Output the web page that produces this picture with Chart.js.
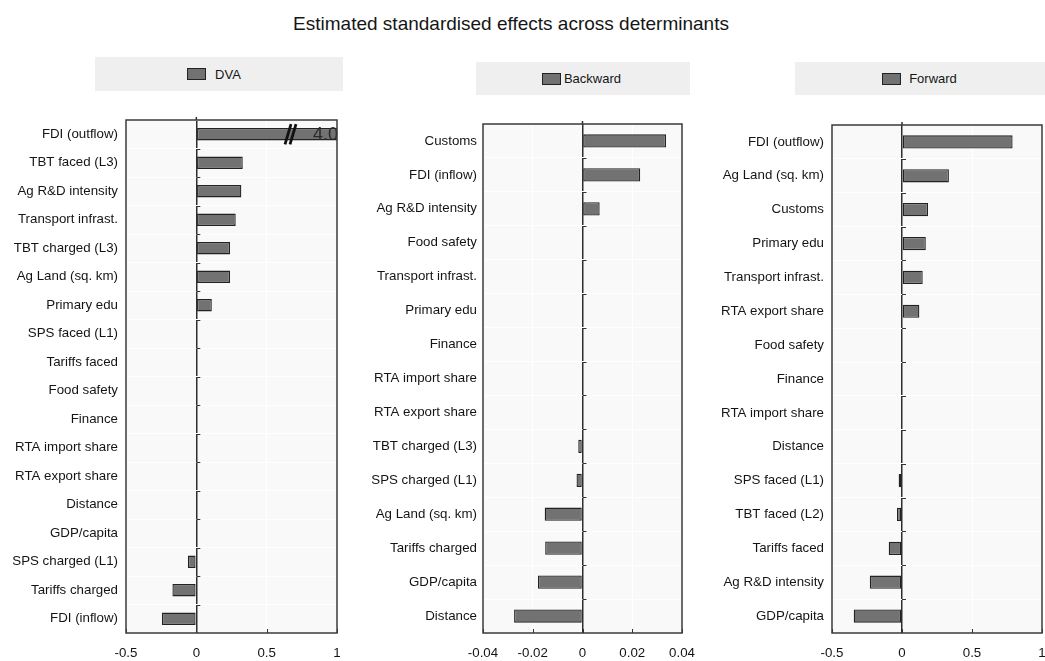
<!DOCTYPE html>
<html>
<head>
<meta charset="utf-8">
<script src="https://cdn.jsdelivr.net/npm/chart.js@4/dist/chart.umd.min.js"></script>
<style>
  html, body { margin: 0; padding: 0; background: #ffffff; }
  body { width: 1045px; height: 661px; position: relative; overflow: hidden; }
  #title {
    position: absolute; left: 0; top: 13px; width: 1022px; text-align: center;
    font-family: "Liberation Sans", Arial, sans-serif; font-size: 19px; color: #161616;
  }
  .legend {
    position: absolute; background: #efefef; display: flex; align-items: center; justify-content: center;
    font-family: "Liberation Sans", Arial, sans-serif; font-size: 13px; color: #161616;
    box-sizing: border-box;
  }
  .swatch {
    display: inline-block; width: 17px; height: 10px; background: #727272; border: 1px solid #222;
  }
  .panel { position: absolute; }
</style>
</head>
<body>
<div id="title"></div>
<div class="legend" id="leg0" style="left:95px;top:57px;width:248px;height:34px;padding-right:10px"></div>
<div class="legend" id="leg1" style="left:476px;top:62px;width:214px;height:33px;padding-right:3px"></div>
<div class="legend" id="leg2" style="left:795px;top:62px;width:250px;height:33px;padding-right:1px"></div>
<div class="panel" style="left:0px;top:110px"><canvas id="c0" width="345" height="551"></canvas></div>
<div class="panel" style="left:350px;top:114px"><canvas id="c1" width="345" height="547"></canvas></div>
<div class="panel" style="left:700px;top:115px"><canvas id="c2" width="345" height="546"></canvas></div>
<script>
const chartTitle = 'Estimated standardised effects across determinants';
const seriesNames = ['DVA', 'Backward', 'Forward'];
const legendGaps = [9, 3, 8];

const dvaLabels = ['FDI (outflow)', 'TBT faced (L3)', 'Ag R&D intensity', 'Transport infrast.', 'TBT charged (L3)',
  'Ag Land (sq. km)', 'Primary edu', 'SPS faced (L1)', 'Tariffs faced', 'Food safety', 'Finance',
  'RTA import share', 'RTA export share', 'Distance', 'GDP/capita', 'SPS charged (L1)', 'Tariffs charged', 'FDI (inflow)'];
const dvaValues = [4.0, 0.33, 0.32, 0.28, 0.24, 0.24, 0.11, 0, 0, 0, 0, 0, 0, 0, 0, -0.06, -0.17, -0.245];
const dvaTicks = [-0.5, 0, 0.5, 1];

const backLabels = ['Customs', 'FDI (inflow)', 'Ag R&D intensity', 'Food safety', 'Transport infrast.', 'Primary edu',
  'Finance', 'RTA import share', 'RTA export share', 'TBT charged (L3)', 'SPS charged (L1)', 'Ag Land (sq. km)',
  'Tariffs charged', 'GDP/capita', 'Distance'];
const backValues = [0.0336, 0.0232, 0.0069, 0, 0, 0, 0, 0, 0, -0.0017, -0.0024, -0.0152, -0.015, -0.0179, -0.0275];
const backTicks = [-0.04, -0.02, 0, 0.02, 0.04];

const fwdLabels = ['FDI (outflow)', 'Ag Land (sq. km)', 'Customs', 'Primary edu', 'Transport infrast.', 'RTA export share',
  'Food safety', 'Finance', 'RTA import share', 'Distance', 'SPS faced (L1)', 'TBT faced (L2)', 'Tariffs faced',
  'Ag R&D intensity', 'GDP/capita'];
const fwdValues = [0.79, 0.335, 0.186, 0.17, 0.148, 0.124, 0, 0, 0, 0, -0.024, -0.036, -0.095, -0.23, -0.345];
const fwdTicks = [-0.5, 0, 0.5, 1];

document.getElementById('title').textContent = chartTitle;
seriesNames.forEach((name, i) => {
  const el = document.getElementById('leg' + i);
  const sw = document.createElement('span');
  sw.className = 'swatch';
  sw.style.marginRight = legendGaps[i] + 'px';
  const tx = document.createElement('span');
  tx.textContent = name;
  el.appendChild(sw);
  el.appendChild(tx);
});

const FONT = '"Liberation Sans", Arial, sans-serif';
const INK = '#141414';

// Plot background, frame, inner tick marks and axis-break marks for truncated bars
const panelDecor = {
  id: 'panelDecor',
  beforeDraw(chart) {
    const { ctx, chartArea: a } = chart;
    ctx.save();
    ctx.fillStyle = '#f9f9f9';
    ctx.fillRect(a.left, a.top, a.right - a.left, a.bottom - a.top);
    ctx.restore();
  },
  afterDatasetsDraw(chart) {
    const { ctx, chartArea: a } = chart;
    const xs = chart.scales.x;
    const meta = chart.getDatasetMeta(0);
    const vals = chart.data.datasets[0].data;
    ctx.save();
    vals.forEach((v, i) => {
      if (v > xs.max) {
        const bar = meta.data[i];
        const h = bar.height;
        const xb = a.right - 49;
        ctx.strokeStyle = '#111';
        ctx.lineWidth = 2.8;
        for (let k = 0; k < 2; k++) {
          const x0 = xb + k * 5;
          ctx.beginPath();
          ctx.moveTo(x0 - 3, bar.y + h / 2 + 4);
          ctx.lineTo(x0 + 3, bar.y - h / 2 - 4);
          ctx.stroke();
        }
        ctx.fillStyle = '#2a2a2a';
        ctx.font = '18px ' + FONT;
        ctx.textAlign = 'right';
        ctx.textBaseline = 'middle';
        ctx.fillText(v.toFixed(1), a.right + 1, bar.y + 1);
      }
    });
    ctx.restore();
  },
  afterDraw(chart) {
    const { ctx, chartArea: a } = chart;
    const xs = chart.scales.x, ys = chart.scales.y;
    const x0 = xs.getPixelForValue(0);
    ctx.save();
    // zero line pokes slightly above the frame
    ctx.strokeStyle = '#2e2e2e';
    ctx.lineWidth = 1.5;
    ctx.beginPath();
    ctx.moveTo(x0, a.top - 3);
    ctx.lineTo(x0, a.top);
    ctx.stroke();
    // category boundary marks on the zero line
    ctx.strokeStyle = '#333';
    ctx.lineWidth = 1;
    const n = chart.data.labels.length;
    for (let i = 1; i < n; i++) {
      const y = Math.round((ys.getPixelForValue(i - 1) + ys.getPixelForValue(i)) / 2) + 0.5;
      ctx.beginPath();
      ctx.moveTo(x0, y);
      ctx.lineTo(x0 + 4, y);
      ctx.stroke();
    }
    // x tick marks pointing into the plot
    xs.ticks.forEach(t => {
      const x = Math.round(xs.getPixelForValue(t.value)) + 0.5;
      ctx.beginPath();
      ctx.moveTo(x, a.bottom);
      ctx.lineTo(x, a.bottom - 4);
      ctx.stroke();
    });
    // frame
    ctx.strokeStyle = '#3a3a3a';
    ctx.lineWidth = 1.5;
    ctx.strokeRect(a.left, a.top, a.right - a.left, a.bottom - a.top);
    ctx.restore();
  }
};

function makePanel(canvasId, labels, values, ticks, name, opts) {
  return new Chart(document.getElementById(canvasId), {
    type: 'bar',
    data: {
      labels: labels,
      datasets: [{
        label: name,
        data: values,
        backgroundColor: '#727272',
        borderColor: '#222222',
        borderWidth: 1.3,
        borderSkipped: false,
        categoryPercentage: 1,
        barPercentage: opts.barPct
      }]
    },
    options: {
      indexAxis: 'y',
      responsive: false,
      animation: false,
      devicePixelRatio: 1,
      layout: { padding: { top: opts.padTop, right: opts.padRight, left: 0, bottom: 0 } },
      plugins: { legend: { display: false }, tooltip: { enabled: false }, title: { display: false } },
      scales: {
        x: {
          min: ticks[0],
          max: ticks[ticks.length - 1],
          afterBuildTicks: s => { s.ticks = ticks.map(v => ({ value: v })); },
          afterFit: s => { s.height = opts.xHeight; s.paddingLeft = 0; s.paddingRight = 0; },
          border: { display: false },
          grid: {
            drawTicks: false,
            color: c => (c.tick && c.tick.value === 0) ? '#2e2e2e' : '#ffffff',
            lineWidth: c => (c.tick && c.tick.value === 0) ? 1.5 : 1
          },
          ticks: {
            padding: 12,
            color: INK,
            font: { family: FONT, size: 13.3 },
            maxRotation: 0,
            callback: v => String(v)
          }
        },
        y: {
          afterFit: s => { s.width = opts.yWidth; s.paddingTop = 0; s.paddingBottom = 0; },
          border: { display: false },
          grid: { drawTicks: false, color: '#ffffff', offset: true },
          ticks: {
            padding: opts.yPad,
            color: INK,
            font: { family: FONT, size: 13.3 },
            autoSkip: false
          }
        }
      }
    },
    plugins: [panelDecor]
  });
}

makePanel('c0', dvaLabels, dvaValues, dvaTicks, seriesNames[0],
  { barPct: 0.43, padTop: 10, padRight: 8, xHeight: 28, yWidth: 126, yPad: 8 });
makePanel('c1', backLabels, backValues, backTicks, seriesNames[1],
  { barPct: 0.39, padTop: 10, padRight: 13, xHeight: 28, yWidth: 133, yPad: 6 });
makePanel('c2', fwdLabels, fwdValues, fwdTicks, seriesNames[2],
  { barPct: 0.39, padTop: 10, padRight: 3, xHeight: 28, yWidth: 132, yPad: 8 });
</script>
</body>
</html>
